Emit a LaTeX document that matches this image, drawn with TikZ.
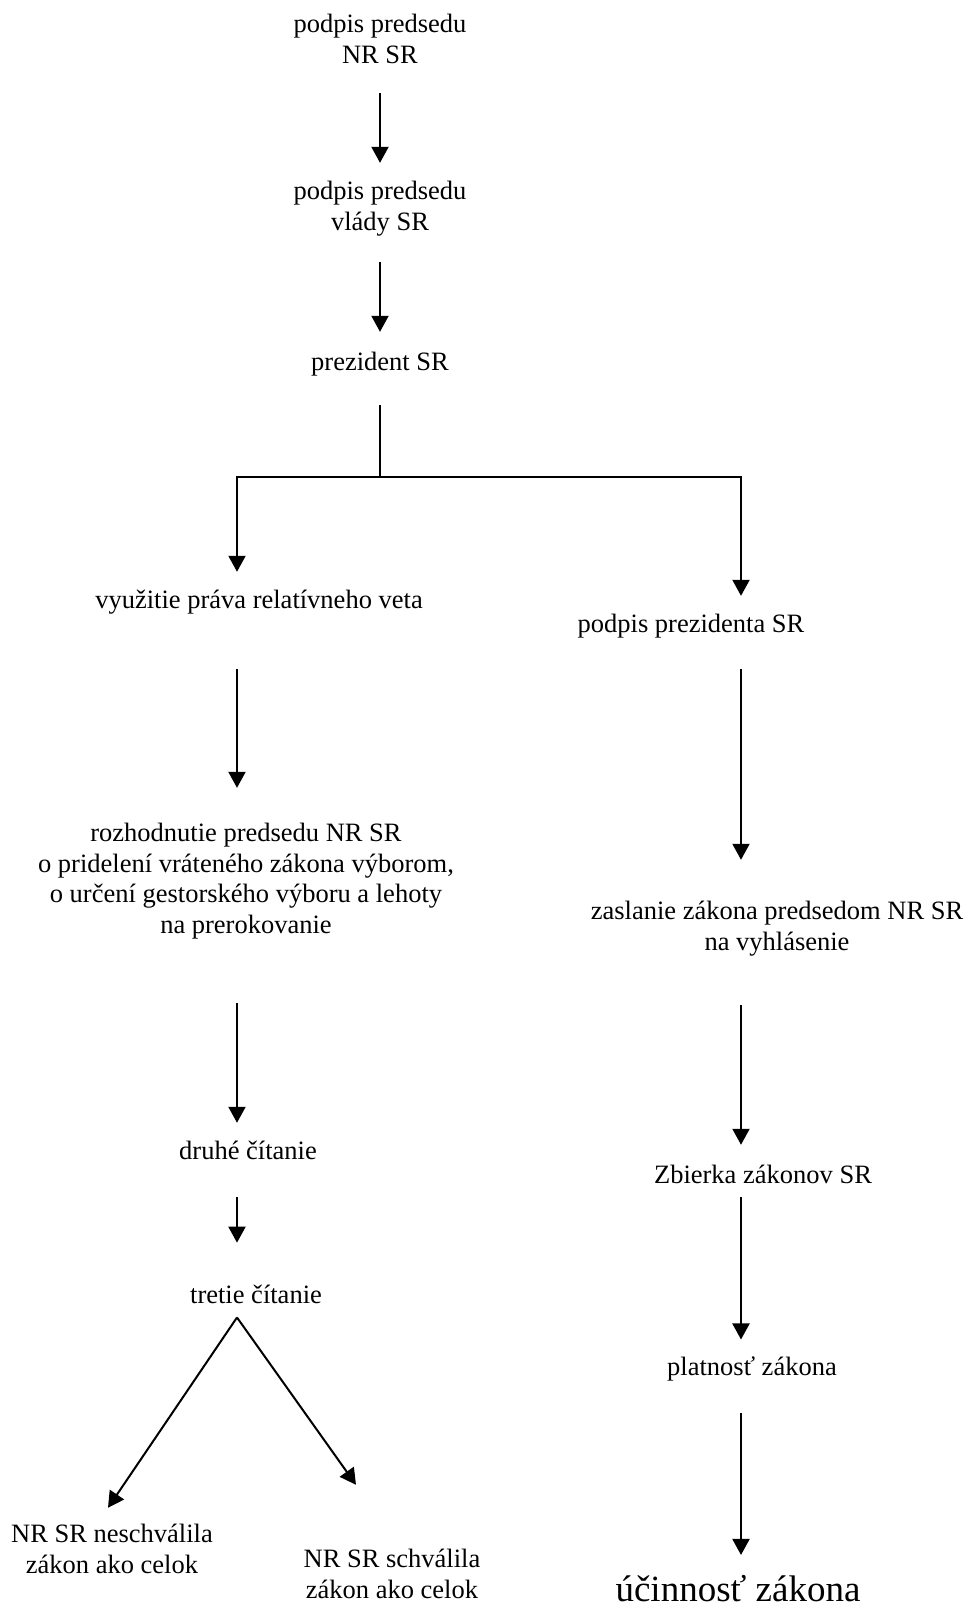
\documentclass[tikz,border=0pt]{standalone}
\usepackage{fontspec}
\setmainfont{Liberation Serif}
\usepackage{tikz}
\usetikzlibrary{arrows.meta}

\begin{document}
\begin{tikzpicture}[x=1pt,y=-1pt,
		lbl/.style={inner sep=0pt, align=center, anchor=base,
			font=\fontsize{26.5}{30.5}\selectfont},
		arr/.style={line width=2pt, -{Triangle[width=17pt,length=16pt]}}]

	\useasboundingbox (0,0) rectangle (970,1606);

	% stlpce sipok
	\coordinate (colM) at (380,0);
	\coordinate (colL) at (237,0);
	\coordinate (colR) at (741,0);
	\coordinate (fork) at (380,477);

	% pri viacriadkovych uzloch je base na poslednom riadku
	\node[lbl] (n1) at (380,63) {podpis predsedu\\NR SR};
	\node[lbl] (n2) at (380,230) {podpis predsedu\\vlády SR};
	\node[lbl] (n3) at (380,370) {prezident SR};

	% lavy stlpec
	\node[lbl] (vet) at (259,608) {využitie práva relatívneho veta};
	\node[lbl] (roz) at (246,933) {rozhodnutie predsedu NR SR\\o pridelení vráteného zákona výborom,\\o určení gestorského výboru a lehoty\\na prerokovanie};
	\node[lbl] (dru) at (248,1159) {druhé čítanie};
	\node[lbl] (tre) at (256,1303) {tretie čítanie};
	\node[lbl] (neg) at (112,1573) {NR SR neschválila\\zákon ako celok};
	\node[lbl] (pos) at (392,1598) {NR SR schválila\\zákon ako celok};

	% pravy stlpec
	\node[lbl] (ppr) at (691,632) {podpis prezidenta SR};
	\node[lbl] (zas) at (777,950) {zaslanie zákona predsedom NR SR\\na vyhlásenie};
	\node[lbl] (zbi) at (763,1183) {Zbierka zákonov SR};
	\node[lbl] (pla) at (752,1375) {platnosť zákona};
	\node[lbl, font=\fontsize{37}{40}\selectfont] (uci) at (738,1601) {účinnosť zákona};

	\draw[arr, shorten <=30pt, shorten >=18.1pt] (n1.south -| colM) -- (n2.north -| colM);
	\draw[arr, shorten <=26.1pt, shorten >=19.6pt] (n2.south -| colM) -- (n3.north -| colM);
	\draw[arr, shorten <=29pt, shorten >=17.6pt] (n3.south -| colM) -- (fork) -| (vet.north -| colL);
	\draw[arr, shorten >=17.6pt] (fork) -| (ppr.north -| colR);

	\draw[arr, shorten <=55.1pt, shorten >=35.1pt] (vet.south -| colL) -- (roz.north -| colL);
	\draw[arr, shorten <=64.1pt, shorten >=17.6pt] (roz.south -| colL) -- (dru.north -| colL);
	\draw[arr, shorten <=38pt, shorten >=41.7pt] (dru.south -| colL) -- (tre.north -| colL);
	\draw[arr] ([yshift=-14pt]tre.south -| colL) -- ([xshift=-4pt,yshift=16.1pt]neg.north);
	\draw[arr] ([yshift=-14pt]tre.south -| colL) -- ([xshift=-36pt,yshift=64.1pt]pos.north);

	\draw[arr, shorten <=31.1pt, shorten >=41.1pt] (ppr.south -| colR) -- (zas.north -| colR);
	\draw[arr, shorten <=49.1pt, shorten >=19.6pt] (zas.south -| colR) -- (zbi.north -| colR);
	\draw[arr, shorten <=14pt, shorten >=16.6pt] (zbi.south -| colR) -- (pla.north -| colR);
	\draw[arr, shorten <=32.1pt, shorten >=19.7pt] (pla.south -| colR) -- (uci.north -| colR);

\end{tikzpicture}
\end{document}
